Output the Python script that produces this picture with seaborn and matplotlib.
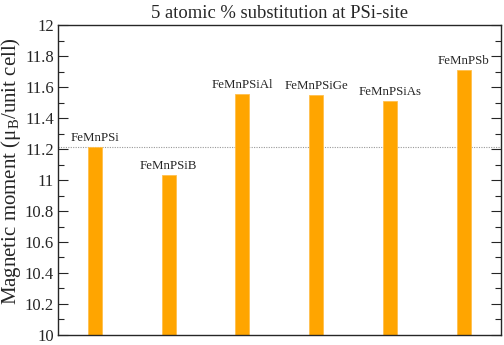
import matplotlib
matplotlib.use("Agg")
import matplotlib.pyplot as plt
import seaborn as sns
import pandas as pd
from matplotlib.ticker import MultipleLocator

compounds = ["FeMnPSi", "FeMnPSiB", "FeMnPSiAl", "FeMnPSiGe", "FeMnPSiAs", "FeMnPSb"]
moments = [11.213, 11.032, 11.553, 11.546, 11.51, 11.71]
reference_moment = 11.215

df = pd.DataFrame({"compound": compounds, "moment": moments})

sns.set_style("ticks")
plt.rcParams['font.family'] = ['Liberation Serif', 'DejaVu Serif']
plt.rcParams['mathtext.fontset'] = 'custom'
plt.rcParams['mathtext.rm'] = 'Liberation Serif'
plt.rcParams['mathtext.it'] = 'Liberation Serif:italic'

fig = plt.figure(figsize=(5.04, 3.45), dpi=100)
ax = fig.add_axes([0.115, 0.029, 0.8785, 0.8985])

sns.barplot(data=df, x="compound", y="moment", color="#FFA500", saturation=1,
            width=0.19, ax=ax, edgecolor="#FFC04D", linewidth=0.6)

ax.axhline(reference_moment, color="#999999", linestyle=(0, (1, 1.2)), linewidth=0.8, zorder=0)

for i, (c, v) in enumerate(zip(compounds, moments)):
    ax.text(i, v + 0.022, c, ha="center", va="bottom", fontsize=9.3)

ax.set_ylim(10, 12)
ax.set_xlim(-0.5, 5.5)
ax.yaxis.set_minor_locator(MultipleLocator(0.1))
ax.set_yticks([10 + 0.2 * k for k in range(11)])
ax.set_yticklabels(["10", "10.2", "10.4", "10.6", "10.8", "11", "11.2", "11.4", "11.6", "11.8", "12"])
ax.tick_params(axis="y", which="major", direction="in", length=7, width=0.8,
               left=True, right=True, labelsize=12, pad=3)
ax.tick_params(axis="y", which="minor", direction="in", length=4, width=0.8,
               left=True, right=True)
ax.tick_params(axis="x", bottom=False, labelbottom=False)
ax.set_xlabel("")
ax.set_ylabel("Magnetic moment (μ$_{\\mathrm{B}}$/unit cell)", fontsize=15, labelpad=1, y=0.53)
ax.set_title("5 atomic % substitution at PSi-site", fontsize=13.4, pad=5)
for s in ax.spines.values():
    s.set_linewidth(1.0)
    s.set_visible(True)

fig.savefig("out.png", dpi=100)
